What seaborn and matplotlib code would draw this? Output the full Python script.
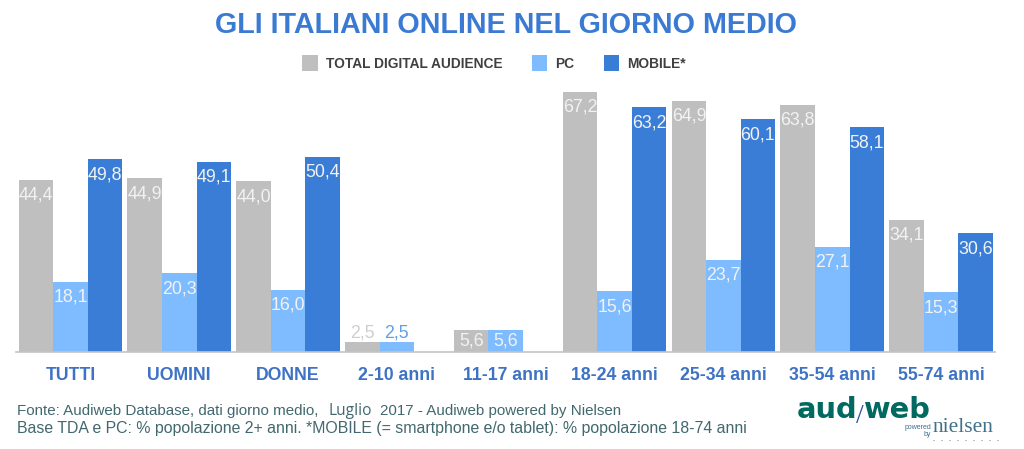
import numpy as np
import pandas as pd
import matplotlib.pyplot as plt
import seaborn as sns

# values
categories = ['TUTTI', 'UOMINI', 'DONNE', '2-10 anni', '11-17 anni',
              '18-24 anni', '25-34 anni', '35-54 anni', '55-74 anni']
tda = [44.4, 44.9, 44.0, 2.5, 5.6, 67.2, 64.9, 63.8, 34.1]
pc = [18.1, 20.3, 16.0, 2.5, 5.6, 15.6, 23.7, 27.1, 15.3]
mobile = [49.8, 49.1, 50.4, np.nan, np.nan, 63.2, 60.1, 58.1, 30.6]
series_names = ['TOTAL DIGITAL AUDIENCE', 'PC', 'MOBILE*']

GRAY = '#bfbfbf'
LIGHT = '#7fbcff'
DARK = '#397dd6'
TITLE_BLUE = '#3a7ad3'
TICK_BLUE = '#3d72c4'
FOOT = '#41686f'
TEAL = '#006a60'

W, H = 1024, 449

df = pd.DataFrame({'categoria': categories, series_names[0]: tda,
                   series_names[1]: pc, series_names[2]: mobile})
long_df = df.melt(id_vars='categoria', var_name='serie', value_name='valore')

sns.set_theme(style='white')
plt.rcParams['font.family'] = ['Liberation Sans', 'DejaVu Sans']

fig = plt.figure(figsize=(W / 100, H / 100), dpi=100)
ax = fig.add_axes([16.0 / W, 1 - 351.5 / H, 979.5 / W, 267 / H])

sns.barplot(data=long_df, x='categoria', y='valore', hue='serie', order=categories,
            hue_order=series_names, palette=[GRAY, LIGHT, DARK], width=0.951, gap=0,
            saturation=1, errorbar=None, linewidth=0, ax=ax)

ax.set_xlim(-0.5, 8.5)
ax.set_ylim(0, 69.1)
ax.set_xlabel('')
ax.set_ylabel('')
ax.set_yticks([])
sns.despine(ax=ax, left=True)
ax.spines['bottom'].set_color('#c4c4c4')
ax.spines['bottom'].set_linewidth(1.2)
ax.tick_params(axis='x', length=0, pad=11)
for lab in ax.get_xticklabels():
    lab.set_fontsize(12.7)
    lab.set_fontweight('bold')
    lab.set_color(TICK_BLUE)

# value labels sit inside the bars, except the two tiny 2-10 bars
for container, colour in zip(ax.containers, ['#b9b9b9', LIGHT, DARK]):
    for bar in container:
        h = bar.get_height()
        if np.isnan(h) or h == 0:
            continue
        txt = f'{h:.1f}'.replace('.', ',')
        x = bar.get_x() + bar.get_width() / 2
        if h < 3:
            col, off = ('#cfcfcf' if colour == '#b9b9b9' else '#5fa0e8'), 3.2
        elif h < 6:
            col, off = '#f2f2f2', -11
        else:
            col, off = '#f2f2f2', -14.4
        ax.annotate(txt, xy=(x, h), xytext=(0, off), textcoords='offset points',
                    ha='center', va='baseline', fontsize=12.8, color=col)

handles, labels = ax.get_legend_handles_labels()
ax.legend(handles, labels, ncol=3, frameon=False, loc='center',
          bbox_to_anchor=(494 / W, 1 - 63 / H), bbox_transform=fig.transFigure,
          prop={'weight': 'bold', 'size': 9.9}, labelcolor='#404040',
          handlelength=1.1, handleheight=1.5, handletextpad=0.59, columnspacing=2.15)

fig.text(506 / W, 1 - 33 / H, 'GLI ITALIANI ONLINE NEL GIORNO MEDIO', ha='center',
         va='baseline', fontsize=20.7, fontweight='bold', color=TITLE_BLUE)

# footer
fig.text(17 / W, 1 - 415 / H, 'Fonte: Audiweb Database, dati giorno medio,', fontsize=10.9, color=FOOT)
fig.text(328 / W, 1 - 415 / H, 'Luglio', fontsize=11.2, color=FOOT, family='Open Sans')
fig.text(380 / W, 1 - 415 / H, '2017 - Audiweb powered by Nielsen', fontsize=10.9, color=FOOT)
fig.text(17 / W, 1 - 433 / H, 'Base TDA e PC: % popolazione 2+ anni. *MOBILE (= smartphone e/o tablet): % popolazione 18-74 anni',
         fontsize=11.47, color=FOOT)

# audiweb logo as text
fig.text(797 / W, 1 - 418 / H, 'aud', fontsize=20.8, fontweight='bold', color=TEAL, family='DejaVu Sans')
fig.text(864 / W, 1 - 418 / H, 'web', fontsize=20.8, fontweight='bold', color=TEAL, family='DejaVu Sans')
fig.text(856.5 / W, 1 - 423 / H, '/', fontsize=20, color='#2f4f9e', family='Liberation Serif')
fig.text(905 / W, 1 - 429 / H, 'powered', fontsize=5, color='#3a6f8f')
fig.text(924 / W, 1 - 436 / H, 'by', fontsize=5, color='#3a6f8f')
fig.text(933 / W, 1 - 432 / H, 'nielsen', fontsize=15.5, color='#41708a', family='Liberation Serif')
fig.text(933 / W, 1 - 441 / H, '.   .   .   .   .   .   .   .   .', fontsize=5, fontweight='bold', color='#555555')

fig.savefig('out.png', dpi=100, facecolor='white')
